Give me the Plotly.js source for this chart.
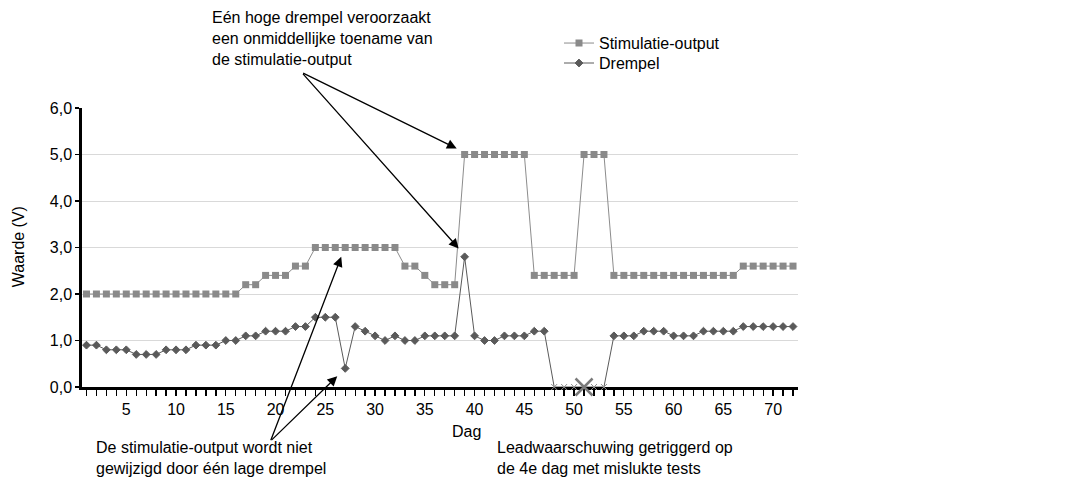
<!DOCTYPE html>
<html>
<head>
<meta charset="utf-8">
<script src="https://cdn.plot.ly/plotly-3.0.1.min.js"></script>
<style>html,body{margin:0;padding:0;background:#fff;}#chart{width:1067px;height:481px;}</style>
</head>
<body>
<div id="chart"></div>
<script>
// ---- data ----
var days = [1,2,3,4,5,6,7,8,9,10,11,12,13,14,15,16,17,18,19,20,21,22,23,24,25,26,27,28,29,30,31,32,33,34,35,36,
            37,38,39,40,41,42,43,44,45,46,47,48,49,50,51,52,53,54,55,56,57,58,59,60,61,62,63,64,65,66,67,68,69,70,71,72];
var stimulatieOutput = [2.0,2.0,2.0,2.0,2.0,2.0,2.0,2.0,2.0,2.0,2.0,2.0,2.0,2.0,2.0,2.0,2.2,2.2,2.4,2.4,2.4,2.6,2.6,3.0,
                        3.0,3.0,3.0,3.0,3.0,3.0,3.0,3.0,2.6,2.6,2.4,2.2,2.2,2.2,5.0,5.0,5.0,5.0,5.0,5.0,5.0,2.4,2.4,2.4,
                        2.4,2.4,5.0,5.0,5.0,2.4,2.4,2.4,2.4,2.4,2.4,2.4,2.4,2.4,2.4,2.4,2.4,2.4,2.6,2.6,2.6,2.6,2.6,2.6];
var drempel = [0.9,0.9,0.8,0.8,0.8,0.7,0.7,0.7,0.8,0.8,0.8,0.9,0.9,0.9,1.0,1.0,1.1,1.1,1.2,1.2,1.2,1.3,1.3,1.5,
               1.5,1.5,0.4,1.3,1.2,1.1,1.0,1.1,1.0,1.0,1.1,1.1,1.1,1.1,2.8,1.1,1.0,1.0,1.1,1.1,1.1,1.2,1.2,0.0,
               0.0,0.0,0.0,0.0,0.0,1.1,1.1,1.1,1.2,1.2,1.2,1.1,1.1,1.1,1.2,1.2,1.2,1.2,1.3,1.3,1.3,1.3,1.3,1.3];
var failedTestDays = [48,49,50,51,52,53];
var leadWarningDay = [51];
var leadWarningValue = [0];
var yTickValues = [0,1,2,3,4,5,6];
var xTickValues = [5,10,15,20,25,30,35,40,45,50,55,60,65,70];
var seriesNames = ['Stimulatie-output', 'Drempel'];
var texts = {
  high: 'Eén hoge drempel veroorzaakt<br>een onmiddellijke toename van<br>de stimulatie-output',
  low: 'De stimulatie-output wordt niet<br>gewijzigd door één lage drempel',
  lead: 'Leadwaarschuwing getriggerd op<br>de 4e dag met mislukte tests',
  xTitle: 'Dag',
  yTitle: 'Waarde (V)'
};

// ---- build ----
var FONT = 'Liberation Sans, Arial, Helvetica, sans-serif';
function isFailed(d) { return failedTestDays.indexOf(d) >= 0; }
var drempelSymbols = days.map(function(d){ return isFailed(d) ? 'x-thin' : 'diamond'; });
var drempelLineColors = days.map(function(d){ return isFailed(d) ? '#8f8f8f' : '#5a5a5a'; });

var traces = [
  {
    x: days, y: stimulatieOutput, name: seriesNames[0], type: 'scatter', mode: 'lines+markers',
    legend: 'legend',
    line: {color: '#8c8c8c', width: 1},
    marker: {symbol: 'square', size: 7, color: '#8a8a8a'},
    cliponaxis: false
  },
  {
    x: days, y: drempel, name: seriesNames[1], type: 'scatter', mode: 'lines+markers',
    legend: 'legend2',
    line: {color: '#5a5a5a', width: 1},
    marker: {symbol: drempelSymbols, size: 6, color: '#5a5a5a',
             line: {color: drempelLineColors, width: 1}},
    cliponaxis: false
  },
  {
    x: leadWarningDay, y: leadWarningValue, type: 'scatter', mode: 'markers', showlegend: false,
    marker: {symbol: 'x-thin', size: 17, color: '#7a7a7a', line: {color: '#7a7a7a', width: 2.5}},
    cliponaxis: false, hoverinfo: 'skip'
  }
];

function arrow(x, y, ax, ay) {
  return {x: x, y: y, xref: 'x', yref: 'y', ax: ax, ay: ay, axref: 'pixel', ayref: 'pixel',
          text: '', showarrow: true, arrowhead: 2, arrowsize: 1.5, arrowwidth: 1.3, arrowcolor: '#000', standoff: 0};
}
function label(txt, px, py, xanchor, yanchor) {
  return {text: txt, xref: 'paper', yref: 'paper', x: (px - 82) / 716, y: (387.5 - py) / 279.5,
          xanchor: xanchor, yanchor: yanchor, align: 'left', showarrow: false,
          font: {family: FONT, size: 16, color: '#000'}};
}
function legendAt(px, pyTop) {
  return {x: (px - 82) / 716, y: (387.5 - pyTop) / 279.5, xanchor: 'left', yanchor: 'top',
          bgcolor: 'rgba(0,0,0,0)', borderwidth: 0,
          font: {family: FONT, size: 16, color: '#000'}};
}

var annotations = [
  label(texts.high, 210, 7, 'left', 'top'),
  label(texts.low, 94, 438, 'left', 'top'),
  label(texts.lead, 495, 438, 'left', 'top'),
  label(texts.xTitle, 466, 432, 'center', 'middle'),
  Object.assign(label(texts.yTitle, 18, 247.5, 'center', 'middle'), {textangle: -90}),
  arrow(38.2, 5.13, -155, -76),
  arrow(38.4, 2.98, -157, -176),
  arrow(26.6, 2.8, -71, 185),
  arrow(26.2, 0.23, -67, 65),
  arrow(51.3, -0.31, 11, 40)
];

var layout = {
  width: 1067, height: 481,
  margin: {l: 82, r: 269, t: 108, b: 93.5, pad: 0},
  paper_bgcolor: '#fff', plot_bgcolor: '#fff',
  separators: ',.',
  font: {family: FONT, size: 16, color: '#000'},
  showlegend: true,
  legend: legendAt(559, 26),
  legend2: legendAt(559, 46),
  xaxis: {
    range: [0.55, 72.5], tickmode: 'array', tickvals: xTickValues, ticktext: xTickValues.map(String),
    ticks: 'outside', ticklen: 6, tickwidth: 1.3, tickcolor: '#000',
    minor: {dtick: 1, tick0: 1, ticks: 'outside', ticklen: 6, tickwidth: 1.3, tickcolor: '#000', showgrid: false},
    showline: true, linecolor: '#000', linewidth: 2.7, showgrid: false, zeroline: false,
    layer: 'below traces',
    tickfont: {family: FONT, size: 16, color: '#000'}, fixedrange: true
  },
  yaxis: {
    range: [0, 6], tickmode: 'array', tickvals: yTickValues, tickformat: '.1f',
    ticks: 'outside', ticklen: 4, tickwidth: 1.3, tickcolor: '#000',
    showline: true, linecolor: '#000', linewidth: 2.7, showgrid: true, gridcolor: '#d9d9d9', gridwidth: 1,
    zeroline: false, layer: 'below traces',
    tickfont: {family: FONT, size: 16, color: '#000'}, fixedrange: true
  },
  annotations: annotations
};

Plotly.newPlot('chart', traces, layout, {displayModeBar: false, staticPlot: true});
</script>
</body>
</html>
